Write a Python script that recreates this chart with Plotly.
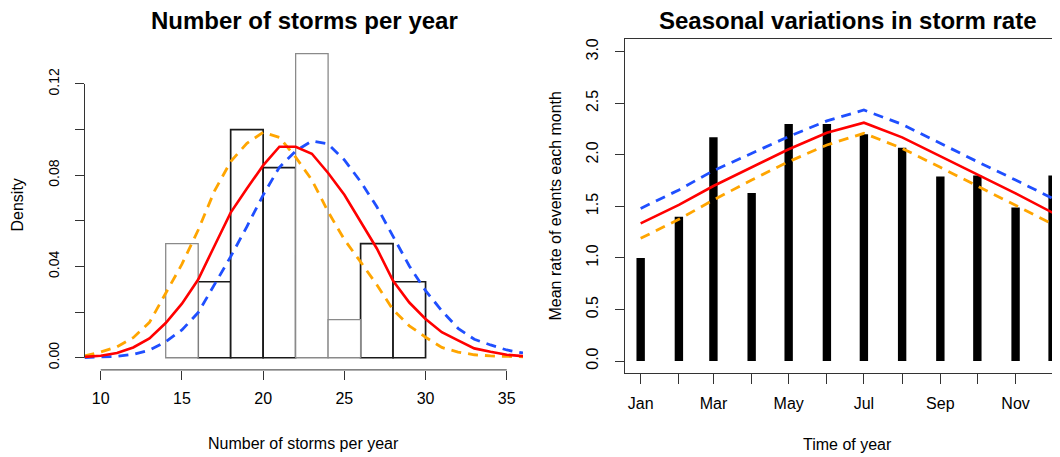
import plotly.graph_objects as go
import pandas as pd

# ---------------- data: left panel (histogram + fitted densities) ----------------
bin_left = [14, 16, 18, 20, 22, 24, 26, 28]
bin_width = 2
bin_density = [0.05, 0.0333, 0.1, 0.0833, 0.1333, 0.0167, 0.05, 0.0333]
bin_edge_col = ["#8a8a8a", "#1a1a1a", "#1a1a1a", "#1a1a1a", "#8a8a8a", "#8a8a8a", "#1a1a1a", "#1a1a1a"]

storms_x = list(range(9, 37))
dens_red = [0.0004, 0.0009, 0.0021, 0.0045, 0.0085, 0.0152, 0.0237, 0.0343, 0.049, 0.0636,
            0.0742, 0.0843, 0.0925, 0.0925, 0.0894, 0.081, 0.0714, 0.0598, 0.0479, 0.0337,
            0.0242, 0.017, 0.0112, 0.0076, 0.0041, 0.0026, 0.0013, 0.0007]
dens_orange = [0.0008, 0.0025, 0.0048, 0.0088, 0.0155, 0.0285, 0.041, 0.056, 0.073, 0.086,
               0.094, 0.0988, 0.0966, 0.0879, 0.0779, 0.064, 0.0518, 0.042, 0.032, 0.021,
               0.014, 0.009, 0.0045, 0.0025, 0.0013, 0.0008, 0.0005, 0.0004]
dens_blue = [0.0001, 0.0003, 0.0006, 0.0015, 0.0033, 0.007, 0.0122, 0.0198, 0.0319, 0.0443,
             0.0575, 0.0713, 0.0835, 0.0906, 0.095, 0.0937, 0.0867, 0.0772, 0.0662, 0.053,
             0.0402, 0.0294, 0.0206, 0.0129, 0.0081, 0.0056, 0.0034, 0.0021]

left_xticks = [10, 15, 20, 25, 30, 35]
left_yticks = [0.0, 0.02, 0.04, 0.06, 0.08, 0.10, 0.12]
left_ytext = ["0.00", "", "0.04", "", "0.08", "", "0.12"]

# ---------------- data: right panel (monthly rates) ----------------
months = pd.date_range("2001-01-01", periods=12, freq="MS")
month_labels = ["Jan", "", "Mar", "", "May", "", "Jul", "", "Sep", "", "Nov", ""]
month_rate = [1.0, 1.4, 2.17, 1.63, 2.3, 2.3, 2.2, 2.07, 1.79, 1.8, 1.49, 1.8]
fit_red = [1.336, 1.514, 1.698, 1.879, 2.054, 2.215, 2.312, 2.17, 1.989, 1.814, 1.627, 1.439]
fit_blue = [1.48, 1.66, 1.847, 2.015, 2.177, 2.33, 2.435, 2.296, 2.11, 1.934, 1.756, 1.578]
fit_orange = [1.19, 1.375, 1.562, 1.756, 1.934, 2.096, 2.209, 2.063, 1.879, 1.698, 1.504, 1.329]
right_yticks = [0.0, 0.5, 1.0, 1.5, 2.0, 2.5, 3.0]

# ---------------- styling ----------------
FONT = "Liberation Sans, Arial, Helvetica, sans-serif"
RED, BLUE, ORANGE = "#ff0000", "#1f4fff", "#ffa500"
DASH = "10px,7px"
AX = "#333333"
W, H = 1060, 457
OFF = 8  # the page body adds an 8px margin around the figure

fig = go.Figure()

# histogram: black-edged bins first, grey-edged on top
bin_mid = [b + bin_width / 2 for b in bin_left]
for col in ["#1a1a1a", "#8a8a8a"]:
    idx = [i for i, c in enumerate(bin_edge_col) if c == col]
    fig.add_trace(go.Bar(
        x=[bin_mid[i] for i in idx], y=[bin_density[i] for i in idx],
        width=[bin_width] * len(idx),
        marker=dict(color="white", line=dict(color=col, width=1.7 if col == "#1a1a1a" else 1.3)),
        xaxis="x", yaxis="y", hoverinfo="skip"))

fig.add_trace(go.Scatter(x=storms_x, y=dens_orange, mode="lines",
                         line=dict(color=ORANGE, width=2.8, dash=DASH), xaxis="x", yaxis="y"))
fig.add_trace(go.Scatter(x=storms_x, y=dens_blue, mode="lines",
                         line=dict(color=BLUE, width=2.8, dash=DASH), xaxis="x", yaxis="y"))
fig.add_trace(go.Scatter(x=storms_x, y=dens_red, mode="lines",
                         line=dict(color=RED, width=2.6), xaxis="x", yaxis="y"))

# right panel
day_ms = 24 * 3600 * 1000
fig.add_trace(go.Bar(x=months, y=month_rate, width=[6.8 * day_ms] * 12,
                     marker=dict(color="black", line=dict(width=0)),
                     xaxis="x2", yaxis="y2"))
fig.add_trace(go.Scatter(x=months, y=fit_blue, mode="lines",
                         line=dict(color=BLUE, width=2.8, dash=DASH), xaxis="x2", yaxis="y2"))
fig.add_trace(go.Scatter(x=months, y=fit_orange, mode="lines",
                         line=dict(color=ORANGE, width=2.8, dash=DASH), xaxis="x2", yaxis="y2"))
fig.add_trace(go.Scatter(x=months, y=fit_red, mode="lines",
                         line=dict(color=RED, width=2.6), xaxis="x2", yaxis="y2"))


def xp(p):  # screen x pixel -> paper fraction
    return (p - OFF) / W


def yp(p):  # screen y pixel -> paper fraction
    return 1 - (p - OFF) / H


x2_start = months[0] - pd.Timedelta(days=12.7)
x2_end = x2_start + pd.Timedelta(days=(W + OFF - 625) / 1.2333)

fig.update_layout(
    width=W, height=H, margin=dict(l=0, r=0, t=0, b=0),
    paper_bgcolor="white", plot_bgcolor="white", showlegend=False, barmode="overlay",
    font=dict(family=FONT, color="black", size=16),
    xaxis=dict(domain=[xp(84.5), xp(523)], range=[9, 36], anchor="y", showgrid=False,
               zeroline=False, showline=False, tickvals=left_xticks, ticks="outside", ticklen=9,
               tickcolor=AX, tickwidth=1, tickfont=dict(size=16), ticklabelstandoff=5),
    yaxis=dict(domain=[yp(369.9), yp(41.3)], range=[-0.00533, 0.1387], anchor="x",
               showgrid=False, zeroline=False, showline=False, tickvals=left_yticks,
               ticktext=left_ytext, ticks="outside", ticklen=9, tickcolor=AX, tickwidth=1,
               tickangle=-90, tickfont=dict(size=14), ticklabelstandoff=10),
    xaxis2=dict(domain=[xp(625), 1.0], range=[x2_start, x2_end], type="date", anchor="y2",
                showgrid=False, zeroline=False, showline=True, linecolor=AX, linewidth=1,
                mirror=True, tickvals=months, ticktext=month_labels, ticks="outside",
                ticklen=10, tickcolor=AX, tickwidth=1, tickfont=dict(size=16),
                ticklabelstandoff=5),
    yaxis2=dict(domain=[yp(373.4), yp(39.4)], range=[-0.12, 3.12], anchor="x2",
                showgrid=False, zeroline=False, showline=True, linecolor=AX, linewidth=1,
                tickvals=right_yticks, ticktext=[f"{v:.1f}" for v in right_yticks],
                ticks="outside", ticklen=9, tickcolor=AX, tickwidth=1, tickangle=-90,
                tickfont=dict(size=16), ticklabelstandoff=11),
)

# R-style partial axis lines for the left panel
fig.add_shape(type="line", xref="x", yref="y domain", x0=left_xticks[0], x1=left_xticks[-1],
              y0=0, y1=0, line=dict(color=AX, width=1))
fig.add_shape(type="line", xref="x domain", yref="y", x0=0, x1=0,
              y0=left_yticks[0], y1=left_yticks[-1], line=dict(color=AX, width=1))

# titles and axis labels (positions in screen pixels)
ann = [
    dict(text="<b>Number of storms per year</b>", x=xp(304), y=yp(20), font=dict(size=24)),
    dict(text="<b>Seasonal variations in storm rate</b>", x=xp(847), y=yp(20), font=dict(size=24)),
    dict(text="Number of storms per year", x=xp(303.5), y=yp(443), font=dict(size=16)),
    dict(text="Time of year", x=xp(847.5), y=yp(444.5), font=dict(size=16)),
    dict(text="Density", x=xp(17.5), y=yp(205), font=dict(size=16), textangle=-90),
    dict(text="Mean rate of events each month", x=xp(555), y=yp(206.5), font=dict(size=16),
         textangle=-90),
]
for a in ann:
    fig.add_annotation(xref="paper", yref="paper", xanchor="center", yanchor="middle",
                       showarrow=False, **a)

fig.write_html("out.html")
